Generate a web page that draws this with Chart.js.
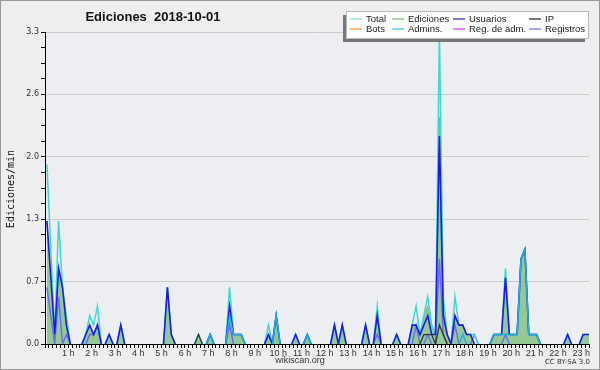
<!DOCTYPE html>
<html>
<head>
<meta charset="utf-8">
<script src="https://cdn.jsdelivr.net/npm/chart.js@4.4.0/dist/chart.umd.min.js"></script>
<style>
  body { margin: 0; background: #fff; }
  canvas { display: block; }
</style>
</head>
<body>
<canvas id="chart" width="600" height="370"></canvas>
<script>
// edits per 10 minute slot on 2018-10-01, one row = 2 hours
var total = [
  19,10,1,13,6,3,0,0,0,0,1,3,
  2,4,0,0,1,0,0,2,0,0,0,0,
  0,0,0,0,0,0,0,6,1,0,0,0,
  0,0,0,1,0,0,1,0,0,0,0,6,
  1,1,1,0,0,0,0,0,0,2,0,3,
  0,0,0,0,1,0,0,1,0,0,0,0,
  0,0,2,0,2,0,0,0,0,0,2,0,
  0,4,0,0,0,0,1,0,0,0,2,4,
  1,3,5,2,1,33,5,1,0,5,2,2,
  1,1,1,0,0,0,0,1,1,1,8,1,
  1,1,9,10,1,1,1,0,0,0,0,0,
  0,0,1,0,0,0,1,1,1,0,0,0
];
var ediciones = [
  13,7,1,8,6,2,0,0,0,0,1,2,
  1,2,0,0,1,0,0,2,0,0,0,0,
  0,0,0,0,0,0,0,6,1,0,0,0,
  0,0,0,1,0,0,1,0,0,0,0,4,
  1,1,1,0,0,0,0,0,0,1,0,3,
  0,0,0,0,1,0,0,1,0,0,0,0,
  0,0,2,0,2,0,0,0,0,0,2,0,
  0,3,0,0,0,0,1,0,0,0,2,2,
  1,3,4,2,1,24,4,1,0,3,2,2,
  1,1,0,0,0,0,0,1,1,1,7,1,
  1,1,9,10,1,1,1,0,0,0,0,0,
  0,0,1,0,0,0,1,1,1,0,0,0
];
var usuarios = [
  13,7,1,8,6,2,0,0,0,0,1,2,
  1,2,0,0,1,0,0,2,0,0,0,0,
  0,0,0,0,0,0,0,6,1,0,0,0,
  0,0,0,0,0,0,1,0,0,0,0,4,
  1,1,1,0,0,0,0,0,0,1,0,3,
  0,0,0,0,1,0,0,1,0,0,0,0,
  0,0,2,0,2,0,0,0,0,0,2,0,
  0,3,0,0,0,0,1,0,0,0,2,2,
  1,2,3,1,1,22,3,1,0,3,2,2,
  1,1,0,0,0,0,0,1,1,1,7,1,
  1,1,9,10,1,1,1,0,0,0,0,0,
  0,0,1,0,0,0,1,1,1,0,0,0
];
var ip = [
  0,0,0,0,0,0,0,0,0,0,0,0,
  0,0,0,0,0,0,0,0,0,0,0,0,
  0,0,0,0,0,0,0,0,0,0,0,0,
  0,0,0,1,0,0,0,0,0,0,0,0,
  0,0,0,0,0,0,0,0,0,0,0,0,
  0,0,0,0,0,0,0,0,0,0,0,0,
  0,0,0,0,0,0,0,0,0,0,0,0,
  0,0,0,0,0,0,0,0,0,0,0,0,
  0,1,1,1,0,2,1,0,0,0,0,0,
  0,0,0,0,0,0,0,0,0,0,0,0,
  0,0,0,0,0,0,0,0,0,0,0,0,
  0,0,0,0,0,0,0,0,0,0,0,0
];
var bots = [
  0,0,0,0,0,0,0,0,0,0,0,0, 0,0,0,0,0,0,0,0,0,0,0,0,
  0,0,0,0,0,0,0,0,0,0,0,0, 0,0,0,0,0,0,0,0,0,0,0,0,
  0,0,0,0,0,0,0,0,0,0,0,0, 0,0,0,0,0,0,0,0,0,0,0,0,
  0,0,0,0,0,0,0,0,0,0,0,0, 0,0,0,0,0,0,0,0,0,0,0,0,
  0,0,0,0,0,0,0,0,0,0,0,0, 0,0,0,0,0,0,0,0,0,0,0,0,
  0,0,0,0,0,0,0,0,0,0,0,0, 0,0,0,0,0,0,0,0,0,0,0,0
];
var admins = [
  0,0,0,0,0,0,0,0,0,0,0,0,
  0,0,0,0,0,0,0,0,0,0,0,0,
  0,0,0,0,0,0,0,0,0,0,0,0,
  0,0,0,0,0,0,1,0,0,0,0,3,
  1,1,1,0,0,0,0,0,0,0,0,3,
  0,0,0,0,0,0,0,1,0,0,0,0,
  0,0,0,0,0,0,0,0,0,0,0,0,
  0,0,0,0,0,0,0,0,0,0,0,0,
  0,0,0,0,0,0,0,0,0,0,0,1,
  0,0,0,0,0,0,0,1,1,1,1,1,
  1,1,9,10,1,1,1,0,0,0,0,0,
  0,0,0,0,0,0,0,0,0,0,0,0
];
var regAdm = [
  0,0,0,0,0,0,0,0,0,0,0,0, 0,0,0,0,0,0,0,0,0,0,0,0,
  0,0,0,0,0,0,0,0,0,0,0,0, 0,0,0,0,0,0,0,0,0,0,0,0,
  0,0,0,0,0,0,0,0,0,0,0,0, 0,0,0,0,0,0,0,0,0,0,0,0,
  0,0,0,0,0,0,0,0,0,0,0,0, 0,0,0,0,0,0,0,0,0,0,0,0,
  0,0,0,0,0,0,0,0,0,0,0,0, 0,0,0,0,0,0,0,0,0,0,0,0,
  0,0,0,0,0,0,0,0,0,0,0,0, 0,0,0,0,0,0,0,0,0,0,0,0
];
var registros = [
  6,3,0,5,0,1,0,0,0,0,0,1,
  1,2,0,0,0,0,0,0,0,0,0,0,
  0,0,0,0,0,0,0,0,0,0,0,0,
  0,0,0,0,0,0,0,0,0,0,0,2,
  0,0,0,0,0,0,0,0,0,1,0,0,
  0,0,0,0,0,0,0,0,0,0,0,0,
  0,0,0,0,0,0,0,0,0,0,0,0,
  0,1,0,0,0,0,0,0,0,0,0,2,
  0,0,1,0,0,9,1,0,0,2,0,0,
  0,0,1,0,0,0,0,0,0,0,1,0,
  0,0,0,0,0,0,0,0,0,0,0,0,
  0,0,0,0,0,0,0,0,0,0,0,0
];

var hourLabels = ['1 h','2 h','3 h','4 h','5 h','6 h','7 h','8 h','9 h','10 h','11 h','12 h',
  '13 h','14 h','15 h','16 h','17 h','18 h','19 h','20 h','21 h','22 h','23 h'];
var yMax = 3.3;
var yTickLabels = ['0.0', '0.7', '1.3', '2.0', '2.6', '3.3'];

// colours used in the legend box (the chart lines use the same hues)
var legendColors = ['#8fe0dc', '#77c277', '#3333cc', '#333333', '#ff9933', '#44c8dc', '#cc44dd', '#7b7bee'];

/**
 * hide the parts of a line that lie flat on zero
 */
function hideFlat(c) {
  if (c.p0.parsed.y === 0 && c.p1.parsed.y === 0) return 'rgba(0,0,0,0)';
  return undefined;
}

function series(label, values, color, order, width) {
  return {
    label: label,
    // slot k is drawn in the middle of its 10 minutes, per minute rate
    data: values.map(function(v, k) { return { x: k + 0.5, y: v / 10 }; }),
    borderColor: color,
    backgroundColor: color,
    borderWidth: width,
    pointRadius: 0,
    fill: false,
    tension: 0,
    order: order,
    segment: { borderColor: hideFlat }
  };
}

var datasets = [
  series('Total', total, '#3fd8cc', 5, 1.5),
  series('Ediciones', ediciones, '#77c277', 9, 1),
  series('Usuarios', usuarios, '#1c1ce0', 4, 1.6),
  series('IP', ip, '#333333', 2, 1.3),
  series('Bots', bots, '#ff9933', 8, 1),
  series('Admins.', admins, '#22ace0', 3, 1.5),
  series('Reg. de adm.', regAdm, '#cc44cc', 7, 1),
  series('Registros', registros, '#6a6af0', 6, 1.4)
];
datasets[1].fill = 'origin';
datasets[1].backgroundColor = 'rgba(110,185,110,0.7)';

var decor = {
  id: 'decor',
  beforeDraw: function(chart) {
    var ctx = chart.ctx, a = chart.chartArea;
    ctx.save();
    ctx.fillStyle = '#eeeeee';
    ctx.fillRect(0, 0, chart.width, chart.height);
    ctx.fillStyle = '#edeef1';
    ctx.fillRect(a.left, a.top, a.right - a.left, a.bottom - a.top);
    ctx.restore();
  },
  afterDraw: function(chart) {
    var ctx = chart.ctx;
    ctx.save();

    // title
    ctx.fillStyle = '#111';
    ctx.font = 'bold 13px "Liberation Sans"';
    ctx.textAlign = 'center';
    ctx.textBaseline = 'alphabetic';
    ctx.fillText('Ediciones  2018-10-01', 153, 21);

    // y title
    ctx.save();
    ctx.translate(11, 189);
    ctx.rotate(-Math.PI / 2);
    ctx.font = '10px "DejaVu Sans Mono"';
    ctx.textBaseline = 'middle';
    ctx.fillText('Ediciones/min', 0, 0);
    ctx.restore();

    // footer
    ctx.fillStyle = '#333';
    ctx.font = '9px "Liberation Sans"';
    ctx.textBaseline = 'middle';
    ctx.fillText('wikiscan.org', 300, 361);
    ctx.font = '7px "DejaVu Sans"';
    ctx.textAlign = 'right';
    ctx.fillText('CC BY-SA 3.0', 590, 362);

    // legend box with shadow
    ctx.fillStyle = '#777';
    ctx.fillRect(343, 15, 242, 27);
    ctx.fillStyle = '#fff';
    ctx.fillRect(346.5, 11.5, 242, 27);
    ctx.strokeStyle = '#bbb';
    ctx.lineWidth = 1;
    ctx.strokeRect(346.5, 11.5, 242, 27);

    var cols = [350, 392, 453, 529];
    var rows = [19, 29];
    ctx.font = '9.5px "Liberation Sans"';
    ctx.textAlign = 'left';
    chart.data.datasets.forEach(function(ds, i) {
      var x = cols[i % 4], y = rows[Math.floor(i / 4)];
      ctx.strokeStyle = legendColors[i];
      ctx.lineWidth = 1.3;
      ctx.beginPath();
      ctx.moveTo(x, y);
      ctx.lineTo(x + 12, y);
      ctx.stroke();
      ctx.fillStyle = '#222';
      ctx.fillText(ds.label, x + 16, y);
    });

    // outer frame
    ctx.strokeStyle = '#999';
    ctx.lineWidth = 1;
    ctx.strokeRect(0.5, 0.5, chart.width - 1, chart.height - 1);
    ctx.restore();
  }
};

var chart = new Chart(document.getElementById('chart'), {
  type: 'line',
  data: { datasets: datasets },
  options: {
    responsive: false,
    devicePixelRatio: 1,
    animation: false,
    layout: { padding: { top: 32, right: 11, left: 0, bottom: 0 } },
    plugins: { legend: { display: false }, tooltip: { enabled: false }, title: { display: false } },
    scales: {
      x: {
        type: 'linear',
        min: 0,
        max: 140,
        z: 1,
        border: { color: '#000', width: 1 },
        grid: { drawOnChartArea: false, drawTicks: true, tickLength: 4, color: '#000' },
        ticks: {
          stepSize: 1,
          maxTicksLimit: 200,
          autoSkip: false,
          maxRotation: 0,
          padding: 0,
          color: '#333',
          font: { family: 'Liberation Sans', size: 9 },
          callback: function(v) {
            if (v % 6 === 0 && v > 0) return hourLabels[v / 6 - 1] || '';
            return '';
          }
        },
        afterFit: function(s) { s.height = 26; }
      },
      y: {
        min: 0,
        max: yMax,
        border: { color: '#000', width: 1 },
        grid: {
          color: function(c) { return c.index % 4 === 0 && c.index > 0 ? '#cccccc' : 'rgba(0,0,0,0)'; },
          tickColor: '#000',
          tickLength: 4
        },
        ticks: {
          autoSkip: false,
          padding: 2,
          color: '#333',
          font: { family: 'DejaVu Sans', size: 8 },
          callback: function(v, i) { return i % 4 === 0 ? yTickLabels[i / 4] : ''; }
        },
        afterBuildTicks: function(s) {
          var t = [];
          for (var i = 0; i <= 20; i++) t.push({ value: yMax * i / 20 });
          s.ticks = t;
        },
        afterFit: function(s) { s.width = 45; }
      }
    }
  },
  plugins: [decor]
});
</script>
</body>
</html>
